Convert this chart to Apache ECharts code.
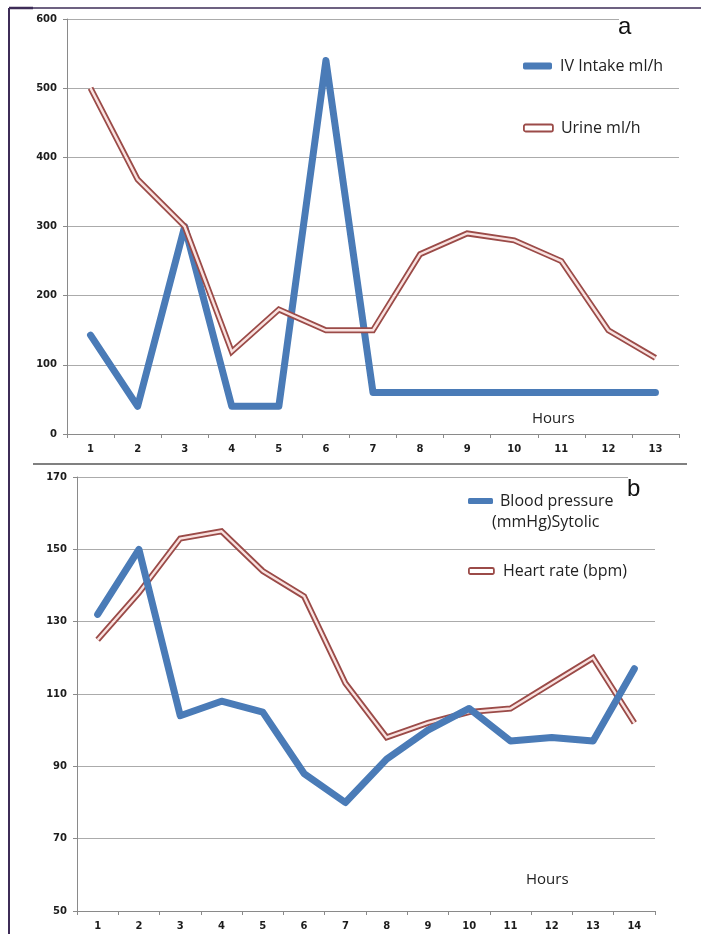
<!DOCTYPE html>
<html>
<head>
<meta charset="utf-8">
<script src="https://cdn.jsdelivr.net/npm/echarts@6/dist/echarts.min.js"></script>
<style>
html,body{margin:0;padding:0;background:#fff;}
#chart{width:701px;height:934px;}
</style>
</head>
<body>
<div id="chart"></div>
<script>
// ---- Data ----
const hoursA = ['1','2','3','4','5','6','7','8','9','10','11','12','13'];
const ivIntake = [143, 40, 300, 40, 40, 540, 60, 60, 60, 60, 60, 60, 60];
const urine = [500, 368, 300, 119, 180, 150, 150, 260, 290, 280, 250, 150, 110];

const hoursB = ['1','2','3','4','5','6','7','8','9','10','11','12','13','14'];
const bloodPressure = [132, 150, 104, 108, 105, 88, 80, 92, 100, 106, 97, 98, 97, 117];
const heartRate = [125, 138, 153, 155, 144, 137, 113, 98, 102, 105, 106, 113, 120, 102];

const ivName = 'IV Intake ml/h';
const urineName = 'Urine ml/h';
const bpName = 'Blood pressure (mmHg)Sytolic';
const hrName = 'Heart rate (bpm)';

// ---- Styles ----
const BLUE = '#4a7bb7';
const RED_OUT = '#9b4b48';
const RED_IN = '#f9e2e0';
const labelFont = {fontFamily:'DejaVu Sans', fontWeight:'bold', fontSize:10, color:'#1c1c1c'};
const legendFont = {fontFamily:'Open Sans', fontSize:16, color:'#222'};

function xAxisCfg(gridIndex, data){
  return {
    type:'category', gridIndex, data, boundaryGap:true,
    axisLine:{lineStyle:{color:'#8a8a8a', width:1}},
    axisTick:{show:true, length:4, lineStyle:{color:'#8a8a8a'}},
    axisLabel:Object.assign({margin:10}, labelFont),
    splitLine:{show:false}
  };
}
function yAxisCfg(gridIndex, min, max, interval){
  return {
    type:'value', gridIndex, min, max, interval,
    axisLine:{show:true, lineStyle:{color:'#8a8a8a', width:1}},
    axisTick:{show:true, length:4, lineStyle:{color:'#8a8a8a'}},
    axisLabel:Object.assign({margin:10}, labelFont),
    splitLine:{show:true, lineStyle:{color:'#ababab', width:1}}
  };
}

const chart = echarts.init(document.getElementById('chart'), null, {renderer:'canvas'});
const option = {
  backgroundColor:'#fff',
  animation:false,
  grid:[
    {left:67, top:19, width:612, height:415},
    {left:77, top:477, width:578, height:434}
  ],
  xAxis:[xAxisCfg(0, hoursA), xAxisCfg(1, hoursB)],
  yAxis:[yAxisCfg(0, 0, 600, 100), yAxisCfg(1, 50, 170, 20)],
  legend:[
    {data:[{name:ivName, icon:'roundRect', itemStyle:{color:BLUE}}],
     left:523, top:58, padding:0, itemWidth:29, itemHeight:7, itemGap:0,
     textStyle:Object.assign({padding:[0,0,0,3]}, legendFont), selectedMode:false},
    {data:[{name:urineName, icon:'roundRect', itemStyle:{color:'#fff', borderColor:RED_OUT, borderWidth:1.8}}],
     left:523, top:120, padding:0, itemWidth:29, itemHeight:7, itemGap:0,
     textStyle:Object.assign({padding:[0,0,0,3]}, legendFont), selectedMode:false},
    {data:[{name:bpName, icon:'roundRect', itemStyle:{color:BLUE}}],
     left:468, top:493, padding:0, itemWidth:25, itemHeight:6, itemGap:0,
     formatter:function(){return 'Blood pressure';},
     textStyle:Object.assign({padding:[0,0,0,2]}, legendFont), selectedMode:false},
    {data:[{name:hrName, icon:'roundRect', itemStyle:{color:'#fff', borderColor:RED_OUT, borderWidth:1.8}}],
     left:468, top:563, padding:0, itemWidth:25, itemHeight:6, itemGap:0,
     textStyle:Object.assign({padding:[0,0,0,4]}, legendFont), selectedMode:false}
  ],
  series:[
    {name:ivName, type:'line', xAxisIndex:0, yAxisIndex:0, data:ivIntake,
     showSymbol:false, z:2, lineStyle:{color:BLUE, width:7, cap:'round', join:'round'}, itemStyle:{color:BLUE}},
    {name:urineName, type:'line', xAxisIndex:0, yAxisIndex:0, data:urine,
     showSymbol:false, z:3, lineStyle:{color:RED_OUT, width:6, join:'miter'}, itemStyle:{color:RED_OUT}},
    {name:'urine-inner', type:'line', xAxisIndex:0, yAxisIndex:0, data:urine, silent:true,
     showSymbol:false, z:4, lineStyle:{color:RED_IN, width:2.4, join:'miter'}},
    {name:hrName, type:'line', xAxisIndex:1, yAxisIndex:1, data:heartRate,
     showSymbol:false, z:2, lineStyle:{color:RED_OUT, width:6, join:'miter'}, itemStyle:{color:RED_OUT}},
    {name:'hr-inner', type:'line', xAxisIndex:1, yAxisIndex:1, data:heartRate, silent:true,
     showSymbol:false, z:3, lineStyle:{color:RED_IN, width:2.4, join:'miter'}},
    {name:bpName, type:'line', xAxisIndex:1, yAxisIndex:1, data:bloodPressure,
     showSymbol:false, z:5, lineStyle:{color:BLUE, width:7, cap:'round', join:'round'}, itemStyle:{color:BLUE}}
  ],
  graphic:[
    // white boxes behind panel letters (they hide the end of the top gridline)
    {type:'rect', z:50, shape:{x:619, y:14, width:62, height:12}, style:{fill:'#fff'}},
    {type:'rect', z:50, shape:{x:628, y:472, width:30, height:12}, style:{fill:'#fff'}},
    {type:'text', z:60, left:618, top:15, style:{text:'a', font:'24px "Liberation Sans"', fill:'#111'}},
    {type:'text', z:60, left:627, top:477, style:{text:'b', font:'24px "Liberation Sans"', fill:'#111'}},
    {type:'text', z:60, left:492, top:514, style:{text:'(mmHg)Sytolic', font:'16px "Open Sans"', fill:'#222'}},
    {type:'text', z:60, left:532, top:411, style:{text:'Hours', font:'15px "Open Sans"', fill:'#222'}},
    {type:'text', z:60, left:526, top:872, style:{text:'Hours', font:'15px "Open Sans"', fill:'#222'}},
    // frame lines
    {type:'line', z:70, shape:{x1:9, y1:8, x2:701, y2:8}, style:{stroke:'#3d2c57', lineWidth:1.5}},
    {type:'line', z:70, shape:{x1:9, y1:8, x2:33, y2:8}, style:{stroke:'#3d2c57', lineWidth:2.5}},
    {type:'line', z:70, shape:{x1:9, y1:8, x2:9, y2:934}, style:{stroke:'#3d2c57', lineWidth:2}},
    {type:'line', z:70, shape:{x1:33, y1:464, x2:687, y2:464}, style:{stroke:'#808080', lineWidth:2}}
  ]
};
chart.setOption(option);
</script>
</body>
</html>
